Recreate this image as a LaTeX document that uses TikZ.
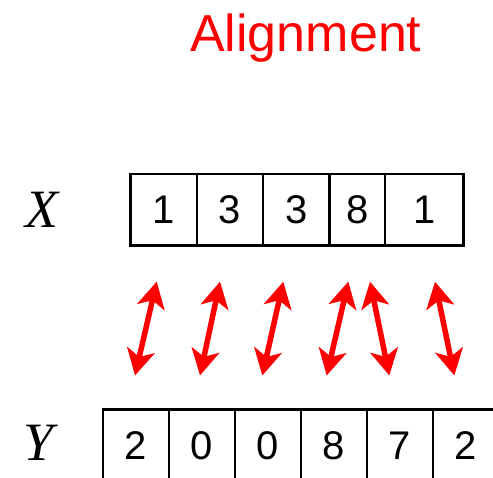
\documentclass[tikz,border=0pt]{standalone}
\usepackage{fontspec}
\setmainfont{Liberation Serif}
\newfontfamily\arialfont{Liberation Sans}
\usetikzlibrary{arrows.meta}
\begin{document}
\begin{tikzpicture}[x=1pt,y=-1pt,
  cell/.style={draw, line width=2.6pt, rectangle, inner sep=0pt, outer sep=0pt,
    minimum height=71.5pt, font=\arialfont\fontsize{40}{40}\selectfont},
  link/.style={draw=red, line width=5.5pt,
    {Stealth[length=26pt,width=28pt,inset=7pt]}-{Stealth[length=26pt,width=28pt,inset=7pt]}},
  lbl/.style={font=\fontsize{54}{54}\selectfont\itshape},
  ttl/.style={anchor=base, text=red, font=\arialfont\fontsize{52}{52}\selectfont}]
\useasboundingbox (0,0) rectangle (493,478);
\clip (0,0) rectangle (493,478);

\node[ttl] (title) at (305.8,51.7) {Alignment};

\node[lbl] (xl) at (42,210) {X};
\node[lbl] (yl) at (39,443) {Y};

% X row
\node[cell, minimum width=66.5pt] (x1) at (163.75,209.75) {1};
\node[cell, minimum width=66pt]   (x2) at (230,209.75) {3};
\node[cell, minimum width=66.3pt] (x3) at (296.15,209.75) {3};
\node[cell, minimum width=55.7pt] (x4) at (357.15,209.75) {8};
\node[cell, minimum width=78.3pt] (x5) at (424.15,209.75) {1};

% Y row
\node[cell, minimum width=66pt] (y1) at (136,445.25) {2};
\node[cell, minimum width=66pt] (y2) at (202,445.25) {0};
\node[cell, minimum width=66pt] (y3) at (268,445.25) {0};
\node[cell, minimum width=66pt] (y4) at (334,445.25) {8};
\node[cell, minimum width=66pt] (y5) at (400,445.25) {7};
\node[cell, minimum width=66pt] (y6) at (466,445.25) {2};

% arrows
\coordinate (a1t) at (156.7,281.7); \coordinate (a1b) at (135,375.5);
\coordinate (a2t) at (220,281.7);   \coordinate (a2b) at (200,375.5);
\coordinate (a3t) at (283.3,281.7); \coordinate (a3b) at (262.3,375.5);
\coordinate (a4t) at (348.3,281.7); \coordinate (a4b) at (326.7,375.5);
\coordinate (a5t) at (370,281.7);   \coordinate (a5b) at (389.3,375.5);
\coordinate (a6t) at (435,281.7);   \coordinate (a6b) at (454.3,375.5);
\draw[link] (a1t) -- (a1b);
\draw[link] (a2t) -- (a2b);
\draw[link] (a3t) -- (a3b);
\draw[link] (a4t) -- (a4b);
\draw[link] (a5t) -- (a5b);
\draw[link] (a6t) -- (a6b);
\end{tikzpicture}
\end{document}
